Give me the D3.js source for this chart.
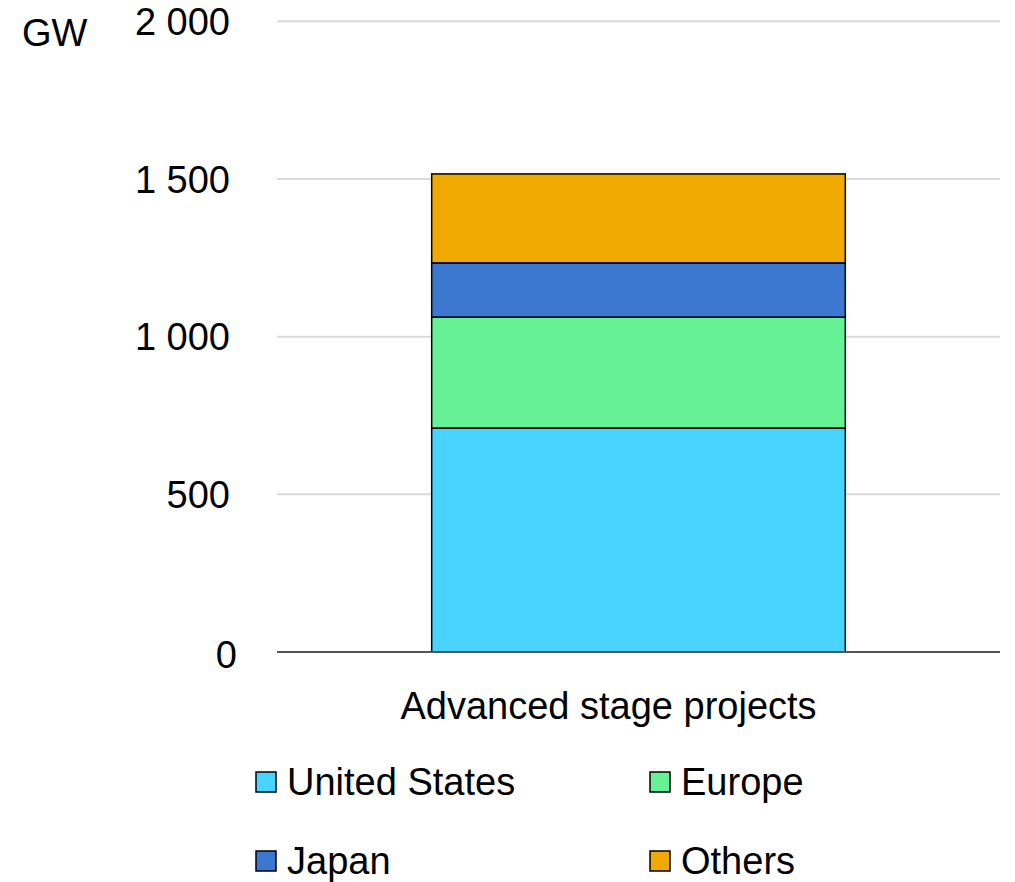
<!DOCTYPE html>
<html><head><meta charset="utf-8">
<script src="https://cdn.jsdelivr.net/npm/d3@7"></script>
<style>
body{margin:0;background:#fff;}
text{font-family:"Liberation Sans",Arial,sans-serif;fill:#000;}
</style></head>
<body><svg id="c" width="1015" height="882"></svg>
<script>
const categories = ["Advanced stage projects"];
const seriesNames = ["United States","Europe","Japan","Others"];
const seriesColors = ["#48D4FF","#66F294","#3C78D0","#EFA900"];
const unitedStates = [710];
const europe = [352];
const japan = [172];
const others = [282];
const yTicks = [0,500,1000,1500,2000];
const yTickLabels = ["0","500","1 000","1 500","2 000"];

const values = [unitedStates, europe, japan, others];
const rows = categories.map((c,i)=>{const r={cat:c}; seriesNames.forEach((s,j)=>r[s]=values[j][i]); return r;});
const stack = d3.stack().keys(seriesNames)(rows);

const FS = 38;
const svg = d3.select("#c");
const L=277, R=1000, T=21.3, B=652;
const x = d3.scaleBand().domain(categories).range([L,R]).paddingInner(0).paddingOuter(0.374);
const y = d3.scaleLinear().domain([0,2000]).range([B,T]);

// gridlines
svg.append("g").selectAll("line").data(yTicks.filter(t=>t>0)).join("line")
  .attr("x1",L).attr("x2",R).attr("y1",d=>y(d)).attr("y2",d=>y(d))
  .attr("stroke","#d9d9d9").attr("stroke-width",2);

// y axis labels
const yAxis = d3.axisLeft(y).tickValues(yTicks).tickSize(0).tickPadding(0)
  .tickFormat((d,i)=>yTickLabels[i]);
const ya = svg.append("g").attr("transform",`translate(${230},0)`).call(yAxis);
ya.select(".domain").remove();
ya.selectAll("text").attr("font-size",FS).attr("font-family","Liberation Sans, Arial, sans-serif").attr("fill","#000").attr("dy","0.35em");
ya.selectAll(".tick").filter(d=>d===0).select("text").attr("x",7).attr("dy","0.42em");

// bars
svg.append("g").selectAll("g").data(stack).join("g")
  .attr("fill",(d,i)=>seriesColors[i])
  .selectAll("rect").data(d=>d).join("rect")
  .attr("x",d=>x(d.data.cat)).attr("width",x.bandwidth())
  .attr("y",d=>y(d[1])).attr("height",d=>y(d[0])-y(d[1]))
  .attr("stroke","#000").attr("stroke-width",1.5);

// baseline
svg.append("line").attr("x1",L).attr("x2",R).attr("y1",B).attr("y2",B)
  .attr("stroke","#555").attr("stroke-width",2);

// x axis label
const xAxis = d3.axisBottom(x).tickSize(0).tickPadding(0);
const xa = svg.append("g").attr("transform",`translate(-30,${B+54})`).call(xAxis);
xa.select(".domain").remove();
xa.selectAll("text").attr("font-size",FS).attr("font-family","Liberation Sans, Arial, sans-serif").attr("fill","#000").attr("dy","0.35em");

// unit
svg.append("text").attr("x",22).attr("y",46).attr("font-size",FS).text("GW");

// legend
const legPos = [[256,782],[650,782],[256,861],[650,861]];
const leg = svg.append("g").selectAll("g").data(seriesNames).join("g")
  .attr("transform",(d,i)=>`translate(${legPos[i][0]},${legPos[i][1]})`);
leg.append("rect").attr("x",0).attr("y",-10).attr("width",20).attr("height",20)
  .attr("fill",(d,i)=>seriesColors[i]).attr("stroke","#000").attr("stroke-width",1.5);
leg.append("text").attr("x",31).attr("y",0).attr("dy","0.35em").attr("font-size",FS).text(d=>d);
</script></body></html>
